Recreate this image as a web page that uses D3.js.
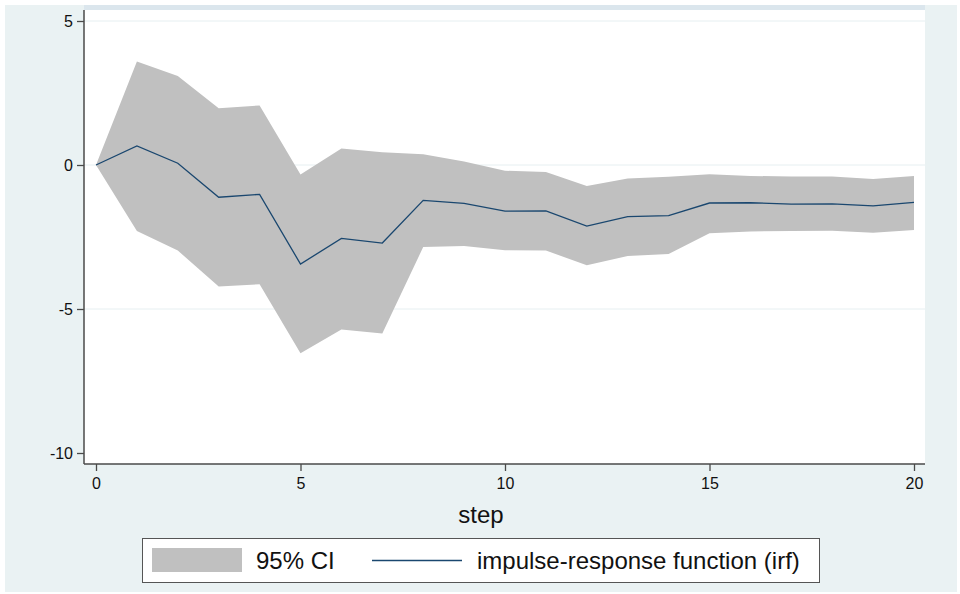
<!DOCTYPE html>
<html>
<head>
<meta charset="utf-8">
<script src="https://cdn.jsdelivr.net/npm/d3@7"></script>
<style>
  body { margin: 0; background: #fff; }
  svg { display: block; font-family: "Liberation Sans", Arial, sans-serif; }
</style>
</head>
<body>
<div id="chart"></div>
<script>
// impulse-response values
const steps = d3.range(0, 21);
const irf = [0, 0.66, 0.06, -1.12, -1.02, -3.44, -2.55, -2.71, -1.23, -1.33, -1.6,
             -1.59, -2.12, -1.79, -1.76, -1.32, -1.31, -1.36, -1.35, -1.42, -1.3];
const ciUpper = [0, 3.59, 3.09, 1.97, 2.07, -0.33, 0.57, 0.44, 0.37, 0.12, -0.2,
                 -0.24, -0.73, -0.47, -0.41, -0.32, -0.38, -0.4, -0.4, -0.49, -0.38];
const ciLower = [0, -2.29, -2.97, -4.22, -4.14, -6.54, -5.71, -5.85, -2.85, -2.81, -2.96,
                 -2.97, -3.48, -3.16, -3.09, -2.37, -2.31, -2.29, -2.28, -2.35, -2.26];
const xTicks = [0, 5, 10, 15, 20];
const yTicks = [-10, -5, 0, 5];
const legendLabels = ["95% CI", "impulse-response function (irf)"];

const width = 960, height = 594;
const plot = { left: 84, right: 925, top: 10, bottom: 464 };

const svg = d3.select("#chart").append("svg")
    .attr("width", width)
    .attr("height", height);

// outer graph region
svg.append("rect")
    .attr("x", 5).attr("y", 5)
    .attr("width", 952).attr("height", 587)
    .attr("fill", "#eaf2f3");

svg.append("rect")
    .attr("x", plot.left).attr("y", plot.top)
    .attr("width", plot.right - plot.left).attr("height", plot.bottom - plot.top)
    .attr("fill", "#fff");

svg.append("rect")
    .attr("x", plot.left).attr("y", 5)
    .attr("width", plot.right - plot.left).attr("height", 5)
    .attr("fill", "#dbe6ed");

const x = d3.scaleLinear().domain([0, 20]).range([96, 914]);
const y = d3.scaleLinear().domain([-10, 5]).range([453, 21]);

// gridlines
svg.append("g")
    .selectAll("line")
    .data(yTicks.filter(d => d !== -10))
    .enter()
    .append("line")
    .attr("x1", plot.left).attr("x2", plot.right)
    .attr("y1", d => y(d)).attr("y2", d => y(d))
    .attr("stroke", "#e6eff1")
    .attr("stroke-width", 1);

const rows = steps.map((s, i) => ({ step: s, irf: irf[i], lo: ciLower[i], hi: ciUpper[i] }));

const area = d3.area()
    .x(d => x(d.step))
    .y0(d => y(d.lo))
    .y1(d => y(d.hi));

svg.append("path")
    .datum(rows)
    .attr("d", area)
    .attr("fill", "#c0c0c0");

const line = d3.line()
    .x(d => x(d.step))
    .y(d => y(d.irf));

svg.append("path")
    .datum(rows)
    .attr("d", line)
    .attr("fill", "none")
    .attr("stroke", "#1a476f")
    .attr("stroke-width", 1.3);

// axes (plain hyphen for negatives, like the original)
const fmt = d => String(d);

const yAxis = svg.append("g")
    .attr("transform", `translate(${plot.left},0)`)
    .call(d3.axisLeft(y).tickValues(yTicks).tickFormat(fmt).tickSize(7).tickPadding(4));
yAxis.select(".domain").attr("d", `M0,${plot.top}V${plot.bottom}`);

const xAxis = svg.append("g")
    .attr("transform", `translate(0,${plot.bottom})`)
    .call(d3.axisBottom(x).tickValues(xTicks).tickFormat(fmt).tickSize(7).tickPadding(7));
xAxis.select(".domain").attr("d", `M${plot.left},0H${plot.right}`);

svg.selectAll(".domain").attr("stroke", "#4a4a4a").attr("stroke-width", 1.5);
svg.selectAll(".tick line").attr("stroke", "#4a4a4a").attr("stroke-width", 1.3);
svg.selectAll(".tick text")
    .attr("font-size", 16)
    .attr("font-family", "Liberation Sans, Arial, sans-serif")
    .attr("fill", "#111");

svg.append("text")
    .attr("x", 481).attr("y", 523)
    .attr("text-anchor", "middle")
    .attr("font-size", 24)
    .attr("fill", "#111")
    .text("step");

// legend
const legend = svg.append("g");
legend.append("rect")
    .attr("x", 142.5).attr("y", 538.5)
    .attr("width", 677).attr("height", 44)
    .attr("fill", "#fff")
    .attr("stroke", "#555")
    .attr("stroke-width", 1);

legend.append("rect")
    .attr("x", 152).attr("y", 548)
    .attr("width", 90).attr("height", 24)
    .attr("fill", "#c0c0c0");

legend.append("text")
    .attr("x", 256).attr("y", 569)
    .attr("font-size", 24)
    .attr("fill", "#111")
    .text(legendLabels[0]);

legend.append("line")
    .attr("x1", 372).attr("x2", 462)
    .attr("y1", 560.5).attr("y2", 560.5)
    .attr("stroke", "#1a476f")
    .attr("stroke-width", 1.3);

legend.append("text")
    .attr("x", 477).attr("y", 569)
    .attr("font-size", 24)
    .attr("fill", "#111")
    .text(legendLabels[1]);
</script>
</body>
</html>
